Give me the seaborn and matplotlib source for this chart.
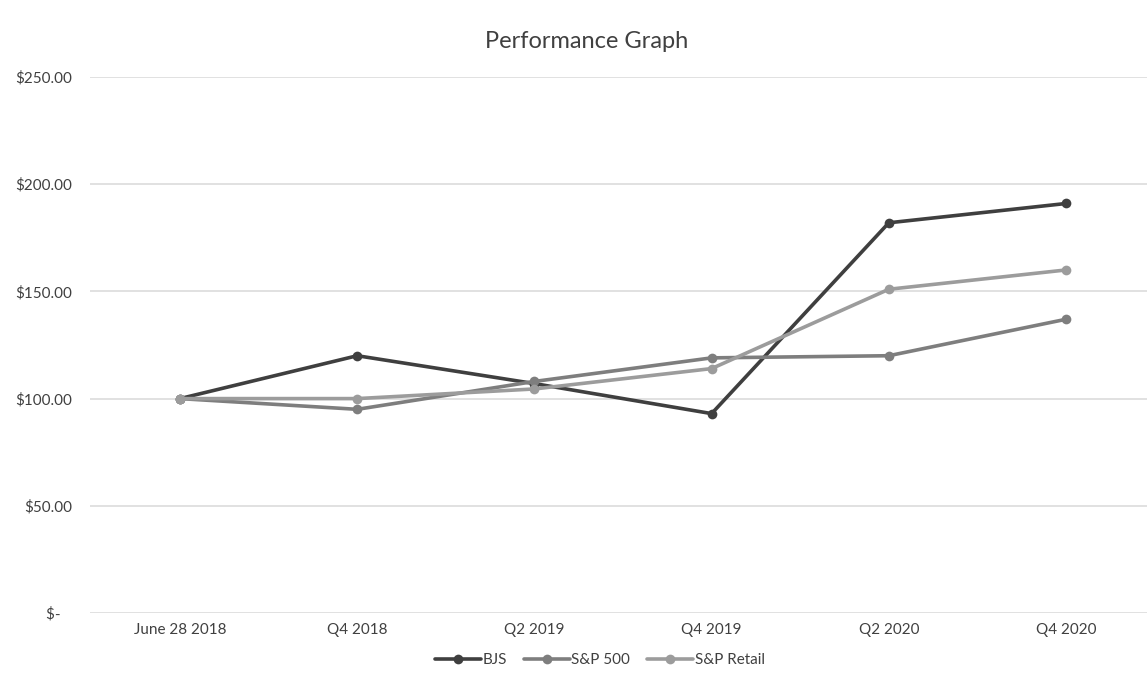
import matplotlib
matplotlib.use("Agg")
import matplotlib.pyplot as plt
import seaborn as sns
import pandas as pd

periods = ["June 28 2018", "Q4 2018", "Q2 2019", "Q4 2019", "Q2 2020", "Q4 2020"]
bjs = [100.0, 120.0, 107.0, 93.0, 182.0, 191.0]
sp500 = [100.0, 95.0, 108.0, 119.0, 120.0, 137.0]
sp_retail = [100.0, 100.0, 104.5, 114.0, 151.0, 160.0]
series_names = ["BJS", "S&P 500", "S&P Retail"]
y_ticks = [0, 50, 100, 150, 200, 250]

sns.set_theme(style="white")
plt.rcParams["font.family"] = ["Lato", "DejaVu Sans"]

rows = []
for name, vals in zip(series_names, [bjs, sp500, sp_retail]):
    for i, (p, v) in enumerate(zip(periods, vals)):
        rows.append({"pos": i, "period": p, "value": v, "series": name})
df = pd.DataFrame(rows)

fig = plt.figure(figsize=(11.47, 6.88), dpi=100)
ax = fig.add_axes([90 / 1147, 75 / 688, 1 - 90 / 1147, (613 - 77) / 688])

palette = {"BJS": "#3f3f3f", "S&P 500": "#7e7e7e", "S&P Retail": "#9c9c9c"}
sns.lineplot(data=df, x="pos", y="value", hue="series", palette=palette,
             marker="o", markersize=7, markeredgewidth=0, linewidth=2.6,
             ax=ax, zorder=3)

ax.set_xlim(-0.508, 5.457)
ax.set_ylim(0, 250)
ax.set_yticks(y_ticks)
ax.set_yticklabels(["$-   " if t == 0 else f"${t:.2f}" for t in y_ticks],
                   fontsize=11, color="#404040")
ax.set_xticks(range(len(periods)))
ax.set_xticklabels(periods, fontsize=11, color="#404040")
ax.tick_params(axis="x", length=0, pad=7)
ax.tick_params(axis="y", length=0, pad=13)
ax.grid(axis="y", color="#d9d9d9", linewidth=1.1)
ax.set_axisbelow(True)
for s in ax.spines.values():
    s.set_visible(False)
ax.set_xlabel("")
ax.set_ylabel("")

fig.text(587 / 1147, 1 - 42 / 688, "Performance Graph", ha="center", va="center",
         fontsize=17, color="#404040")

handles, labels = ax.get_legend_handles_labels()
ax.legend(handles, labels, loc="center", bbox_to_anchor=(600 / 1147, 1 - 660 / 688),
          bbox_transform=fig.transFigure, ncol=3, frameon=False, fontsize=11,
          handlelength=3.0, handletextpad=0.1, columnspacing=1.1,
          labelcolor="#404040")

fig.savefig("out.png", dpi=100, facecolor="white")
